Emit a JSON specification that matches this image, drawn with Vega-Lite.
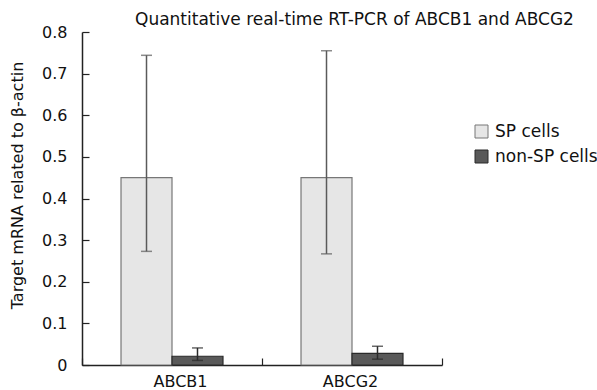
{
  "$schema": "https://vega.github.io/schema/vega-lite/v6.json",
  "autosize": {"type": "none"},
  "padding": {"left": 82, "top": 32, "right": 155, "bottom": 25},
  "width": 360,
  "height": 333,
  "background": "white",
  "config": {
    "font": "DejaVu Sans",
    "view": {"stroke": null},
    "axis": {"domainColor": "#222", "tickColor": "#222", "labelColor": "#111", "titleColor": "#111", "grid": false, "labelFont": "DejaVu Sans", "titleFont": "DejaVu Sans", "titleFontWeight": "normal"}
  },
  "title": {
    "text": "Quantitative real-time RT-PCR of ABCB1 and ABCG2",
    "anchor": "start",
    "frame": "group",
    "dx": 53,
    "offset": -5,
    "fontSize": 17,
    "fontWeight": "normal",
    "font": "DejaVu Sans",
    "color": "#111"
  },
  "data": {
    "values": [
      {"gene": "ABCB1", "cell": "SP cells", "mean": 0.45, "lo": 0.273, "hi": 0.744},
      {"gene": "ABCB1", "cell": "non-SP cells", "mean": 0.021, "lo": 0.011, "hi": 0.041},
      {"gene": "ABCG2", "cell": "SP cells", "mean": 0.45, "lo": 0.267, "hi": 0.755},
      {"gene": "ABCG2", "cell": "non-SP cells", "mean": 0.028, "lo": 0.014, "hi": 0.045}
    ]
  },
  "encoding": {
    "x": {
      "field": "gene", "type": "nominal", "title": null,
      "scale": {"paddingInner": 0, "paddingOuter": 0},
      "axis": {"labelAngle": 0, "labelFontSize": 16, "tickBand": "extent", "tickSize": -7, "labelPadding": 15, "domainWidth": 1.5, "tickWidth": 1.2,
        "labelOffset": {"condition": {"test": "datum.value === 'ABCB1'", "value": 8}, "value": -2}}
    },
    "xOffset": {"field": "cell", "type": "nominal", "sort": ["SP cells", "non-SP cells"], "scale": {"paddingInner": 0, "paddingOuter": 0.765}}
  },
  "layer": [
    {
      "mark": {"type": "bar", "strokeWidth": 1.2},
      "encoding": {
        "y": {
          "field": "mean", "type": "quantitative",
          "title": "Target mRNA related to β-actin",
          "scale": {"domain": [0, 0.8], "nice": false},
          "axis": {"values": [0, 0.1, 0.2, 0.3, 0.4, 0.5, 0.6, 0.7, 0.8], "format": "~g", "labelFontSize": 16, "tickSize": -7, "labelPadding": 22, "titleFontSize": 16, "titleX": -65, "titleY": 153, "titleBaseline": "middle", "domainWidth": 1.5, "tickWidth": 1.2}
        },
        "fill": {
          "field": "cell", "type": "nominal", "sort": ["SP cells", "non-SP cells"],
          "scale": {"domain": ["SP cells", "non-SP cells"], "range": ["#e6e6e6", "#595959"]},
          "legend": {"title": null, "orient": "none", "legendX": 391, "legendY": 91, "symbolType": "square", "symbolSize": 169, "symbolStrokeColor": "#333", "symbolStrokeWidth": 1, "labelFontSize": 17, "labelFont": "DejaVu Sans", "labelColor": "#111", "rowPadding": 7, "labelOffset": 5, "padding": 0}
        },
        "stroke": {
          "field": "cell", "type": "nominal",
          "scale": {"domain": ["SP cells", "non-SP cells"], "range": ["#777777", "#2a2a2a"]},
          "legend": null
        }
      }
    },
    {
      "mark": {"type": "rule", "strokeWidth": 1.5},
      "encoding": {
        "y": {"field": "lo", "type": "quantitative"},
        "y2": {"field": "hi"},
        "color": {"field": "cell", "type": "nominal", "scale": {"domain": ["SP cells", "non-SP cells"], "range": ["#5a5a5a", "#2a2a2a"]}, "legend": null}
      }
    },
    {
      "mark": {"type": "tick", "size": 11, "thickness": 1.5},
      "encoding": {
        "y": {"field": "lo", "type": "quantitative"},
        "color": {"field": "cell", "type": "nominal", "scale": {"domain": ["SP cells", "non-SP cells"], "range": ["#5a5a5a", "#2a2a2a"]}, "legend": null}
      }
    },
    {
      "mark": {"type": "tick", "size": 11, "thickness": 1.5},
      "encoding": {
        "y": {"field": "hi", "type": "quantitative"},
        "color": {"field": "cell", "type": "nominal", "scale": {"domain": ["SP cells", "non-SP cells"], "range": ["#5a5a5a", "#2a2a2a"]}, "legend": null}
      }
    }
  ],
  "resolve": {"scale": {"color": "independent"}}
}
